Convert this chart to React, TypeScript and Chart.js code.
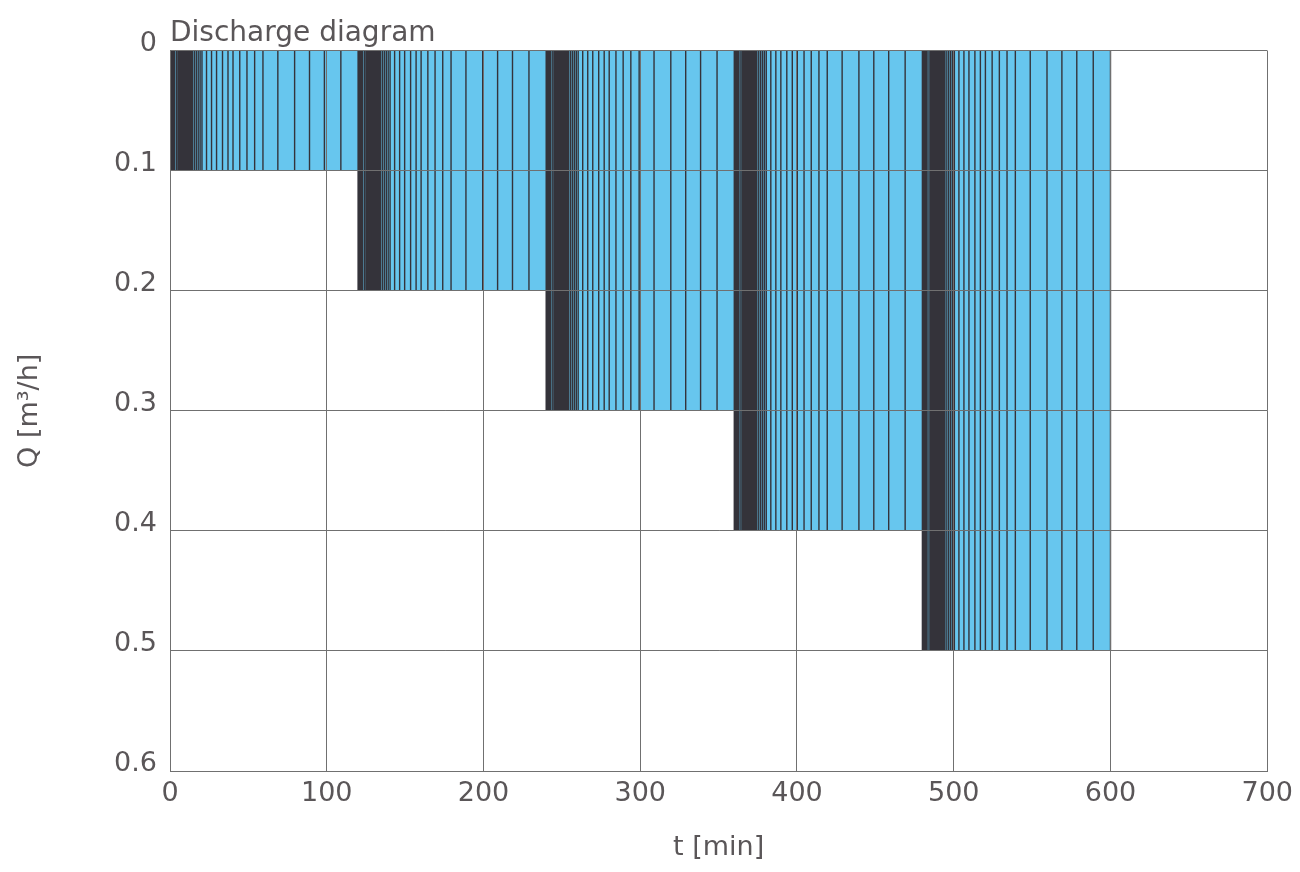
import React, { useEffect, useRef } from "react";
import { Chart, registerables } from "chart.js";

Chart.register(...registerables);

// Stage data: start/end time [min] and discharge Q [m3/h]
const stageStart = [0, 120, 240, 360, 480];
const stageEnd = [120, 240, 360, 480, 600];
const stageQ = [0.1, 0.2, 0.3, 0.4, 0.5];

// Time instants (offset from stage start, min) at which the discharge is sampled
const sampleOffsets = [
  0, 0.5, 1.0, 1.5, 2.0, 2.5, 3.0, 4.2, 5.2, 5.8, 6.4, 7.0, 7.6, 8.2, 8.8, 9.4,
  10.0, 10.6, 11.2, 11.8, 12.4, 13.0, 13.6, 14.4, 15.6, 16.8, 18.0, 19.2, 20.4,
  23.3, 26.5, 29.7, 33.5, 37.0, 40.2, 44.5, 49.1, 54.0, 59.3, 68.8, 79.5, 89.0,
  98.5, 109.0, 120.0,
];

const yTickLabels = ["0", "0.1", "0.2", "0.3", "0.4", "0.5", "0.6"];

const TEXT = "#5a5658";
const GRID = "#707070";
const BLUE = "#67c6ee";
const LINE = "#34333a";
const FONT = "DejaVu Sans";

export default function App() {
  const ref = useRef<HTMLCanvasElement>(null);

  useEffect(() => {
    if (!ref.current) return;
    const fillData: { x: number; y: number }[] = [];
    stageStart.forEach((s, i) => {
      fillData.push({ x: s, y: stageQ[i] });
      fillData.push({ x: stageEnd[i], y: stageQ[i] });
    });
    const lineData: { x: number; y: number | null }[] = [];
    stageStart.forEach((s, i) => {
      sampleOffsets.forEach((o) => {
        lineData.push({ x: s + o, y: 0 });
        lineData.push({ x: s + o, y: stageQ[i] });
        lineData.push({ x: s + o, y: null });
      });
    });

    const chart = new Chart(ref.current, {
      type: "line",
      data: {
        datasets: [
          {
            label: "samples",
            data: lineData as any,
            borderColor: LINE,
            borderWidth: 1.4,
            pointRadius: 0,
            spanGaps: false,
            fill: false,
            order: 0,
          },
          {
            label: "Q",
            data: fillData as any,
            borderWidth: 0,
            borderColor: "rgba(0,0,0,0)",
            backgroundColor: BLUE,
            pointRadius: 0,
            fill: { value: 0 } as any,
            order: 1,
          },
        ],
      },
      options: {
        animation: false,
        responsive: false,
        devicePixelRatio: 1,
        events: [],
        layout: { padding: { left: 0, right: 30, top: 0, bottom: 0 } },
        plugins: {
          legend: { display: false },
          tooltip: { enabled: false },
          title: {
            display: true,
            text: "Discharge diagram",
            align: "start",
            fullSize: false,
            color: TEXT,
            font: { family: FONT, size: 28, weight: "normal", lineHeight: 1.2 },
            padding: { top: 17, bottom: 0 },
          },
        },
        scales: {
          x: {
            type: "linear",
            min: 0,
            max: 700,
            afterFit: (scale: any) => {
              scale.height = 101;
            },
            ticks: {
              stepSize: 100,
              color: TEXT,
              padding: 7,
              maxRotation: 0,
              font: { family: FONT, size: 27, lineHeight: 1.2 },
            },
            grid: { color: GRID, lineWidth: 1, drawTicks: false, z: 1 } as any,
            border: { color: GRID, width: 1, z: 1 } as any,
            title: {
              display: true,
              text: "t [min]",
              color: TEXT,
              font: { family: FONT, size: 27, lineHeight: 1.2 },
              padding: { top: 0, bottom: 8 },
            },
          },
          y: {
            type: "linear",
            reverse: true,
            min: 0,
            max: 0.6,
            afterFit: (scale: any) => {
              scale.width = 170;
            },
            ticks: {
              stepSize: 0.1,
              color: TEXT,
              padding: 13,
              labelOffset: -7,
              font: { family: FONT, size: 27, lineHeight: 1.2 },
              callback: (v: any) => yTickLabels[Math.round(Number(v) * 10)],
            },
            grid: { color: GRID, lineWidth: 1, drawTicks: false, z: 1 } as any,
            border: { color: GRID, width: 1, z: 1 } as any,
            title: {
              display: true,
              text: "Q [m³/h]",
              color: TEXT,
              font: { family: FONT, size: 27, lineHeight: 1.2 },
              padding: { top: 14, bottom: 0 },
            },
          },
        },
      } as any,
    });
    return () => chart.destroy();
  }, []);

  return (
    <div style={{ position: "absolute", left: 0, top: 0, width: 1300, height: 872, background: "#fff" }}>
      <canvas ref={ref} width={1300} height={872} />
    </div>
  );
}
